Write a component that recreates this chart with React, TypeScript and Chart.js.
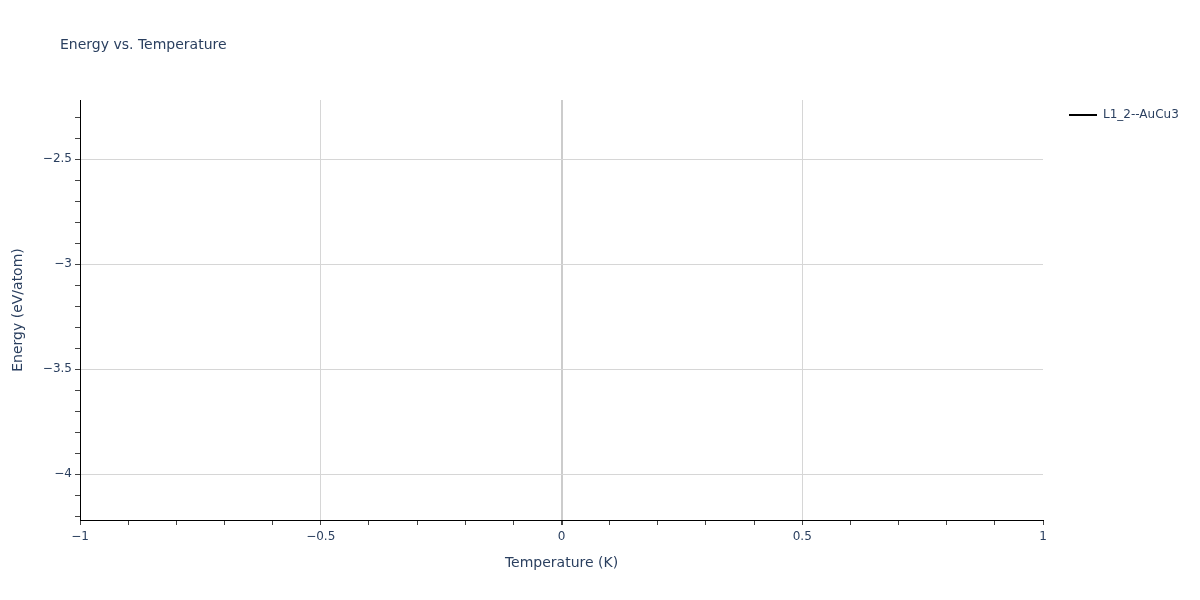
import { useEffect, useRef } from "react";
import Chart from "chart.js/auto";

const temperature = [0];
const energy = [-3.219];
const seriesName = "L1_2--AuCu3";

const xTicks = [-1, -0.5, 0, 0.5, 1];
const yTicks = [-4, -3.5, -3, -2.5];
const yMin = -4.219;
const yMax = -2.219;

const FONT = "'DejaVu Sans', verdana, arial, sans-serif";
const TEXT = "#2a3f5f";

const minus = (v: number) => String(v).replace("-", "\u2212");
const isMajor = (v: number, list: number[]) => list.some((t) => Math.abs(t - v) < 1e-6);

const overlay = {
  id: "overlay",
  afterDraw(chart: Chart) {
    const { ctx, chartArea } = chart;
    ctx.save();
    ctx.fillStyle = TEXT;
    ctx.textBaseline = "middle";
    ctx.font = `14px ${FONT}`;
    ctx.textAlign = "left";
    ctx.fillText("Energy vs. Temperature", 60, 45);

    ctx.textAlign = "center";
    ctx.fillText("Temperature (K)", (chartArea.left + chartArea.right) / 2, 563);

    ctx.save();
    ctx.translate(18, (chartArea.top + chartArea.bottom) / 2);
    ctx.rotate(-Math.PI / 2);
    ctx.fillText("Energy (eV/atom)", 0, 0);
    ctx.restore();

    // legend
    ctx.strokeStyle = "#000";
    ctx.lineWidth = 2;
    ctx.beginPath();
    ctx.moveTo(1069, 115);
    ctx.lineTo(1097, 115);
    ctx.stroke();
    ctx.font = `12px ${FONT}`;
    ctx.textAlign = "left";
    ctx.fillText(seriesName, 1103, 115);
    ctx.restore();
  },
};

export default function App() {
  const canvasRef = useRef<HTMLCanvasElement | null>(null);

  useEffect(() => {
    if (!canvasRef.current) return;
    const chart = new Chart(canvasRef.current, {
      type: "scatter",
      data: {
        datasets: [
          {
            label: seriesName,
            data: temperature.map((t, i) => ({ x: t, y: energy[i] })),
            borderColor: "#000",
            backgroundColor: "#000",
            showLine: true,
            pointRadius: 0,
            borderWidth: 2,
          },
        ],
      },
      options: {
        animation: false,
        responsive: false,
        layout: { padding: { top: 100, right: 157, left: 0, bottom: 0 } },
        plugins: {
          legend: { display: false },
          title: { display: false },
          tooltip: { enabled: false },
        },
        scales: {
          x: {
            type: "linear",
            min: -1,
            max: 1,
            afterBuildTicks: (scale: any) => {
              const ticks = [];
              for (let i = -10; i <= 10; i++) ticks.push({ value: i / 10 });
              scale.ticks = ticks;
            },
            afterFit: (scale: any) => {
              scale.height = 80;
            },
            ticks: {
              autoSkip: false,
              maxRotation: 0,
              padding: 5,
              color: TEXT,
              font: { family: FONT, size: 12 },
              callback: (v: any) => (isMajor(Number(v), xTicks) ? minus(Math.round(Number(v) * 10) / 10) : ""),
            },
            grid: {
              drawTicks: true,
              tickLength: 5,
              tickColor: "#444",
              color: (c: any) => {
                const v = c.tick?.value;
                if (v === undefined) return "transparent";
                if (Math.abs(v) < 1e-6) return "#cccccc";
                if (Math.abs(Math.abs(v) - 1) < 1e-6) return "transparent";
                return isMajor(v, xTicks) ? "#d6d6d6" : "transparent";
              },
              lineWidth: (c: any) => (c.tick && Math.abs(c.tick.value) < 1e-6 ? 2 : 1),
            },
            border: { display: true, color: "#000", width: 1 },
          },
          y: {
            type: "linear",
            min: yMin,
            max: yMax,
            afterBuildTicks: (scale: any) => {
              const ticks = [];
              for (let i = -42; i <= -23; i++) ticks.push({ value: i / 10 });
              scale.ticks = ticks;
            },
            afterFit: (scale: any) => {
              scale.width = 80;
            },
            ticks: {
              autoSkip: false,
              padding: 3,
              color: TEXT,
              font: { family: FONT, size: 12 },
              callback: (v: any) => (isMajor(Number(v), yTicks) ? minus(Math.round(Number(v) * 10) / 10) : ""),
            },
            grid: {
              drawTicks: true,
              tickLength: 5,
              tickColor: "#444",
              color: (c: any) => {
                const v = c.tick?.value;
                if (v === undefined) return "transparent";
                return isMajor(v, yTicks) ? "#d6d6d6" : "transparent";
              },
            },
            border: { display: true, color: "#000", width: 1 },
          },
        },
      },
      plugins: [overlay],
    });
    return () => chart.destroy();
  }, []);

  return (
    <div style={{ position: "absolute", left: 0, top: 0, width: 1200, height: 600, background: "#fff" }}>
      <canvas ref={canvasRef} width={1200} height={600} />
    </div>
  );
}
